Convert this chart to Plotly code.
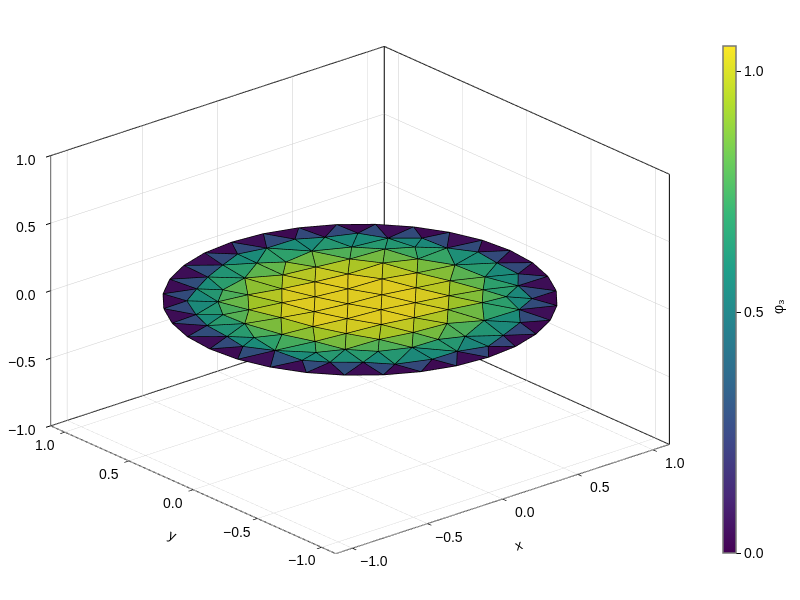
import plotly.graph_objects as go

# disk mesh: outer circle, second ring, inner nodes
# (read as fractions of the box half width, disk edge at .9 of it)
boundary_x = [0, .176, .344, .5, .636, .748, .831, .883, .9, .883, .831, .748, .636, .5, .344, .176,
              0, -.176, -.344, -.5, -.636, -.748, -.831, -.883, -.9, -.883, -.831, -.748, -.636, -.5, -.344, -.176]
boundary_y = [.9, .883, .831, .748, .636, .5, .344, .176, 0, -.176, -.344, -.5, -.636, -.748, -.831, -.883,
              -.9, -.883, -.831, -.748, -.636, -.5, -.344, -.176, 0, .176, .344, .5, .636, .748, .831, .883]
boundary_val = [-.2] * 32

ring_x = [-.481, -.351, -.207, -.071, .076, .242, .361, .506, .572, .690, .700, .777, .758, .747, .655, .604,
          .474, .379, .220, .084, -.062, -.209, -.377, -.472, -.586, -.668, -.686, -.766, -.744, -.729, -.683, -.608]
ring_y = [.581, .655, .719, .774, .742, .739, .668, .607, .473, .373, .210, .082, -.073, -.234, -.341, -.499,
          -.560, -.679, -.746, -.800, -.754, -.751, -.686, -.574, -.476, -.376, -.207, -.076, .061, .219, .350, .502]
ring_val = [.53, .54, .54, .50, .54, .50, .52, .50, .54, .50, .55, .50, .52, .50, .54, .50,
            .55, .50, .50, .48, .53, .50, .50, .54, .53, .52, .56, .51, .54, .53, .52, .50]

inner_x = [-.398, -.507, -.590,
           -.074, -.231, -.350, -.462, -.583, -.658,
           .035, -.076, -.186, -.293, -.412, -.538,
           .209, .100, -.018, -.133, -.251, -.370, -.478, -.559,
           .378, .279, .157, .042, -.073, -.191, -.309, -.435,
           .478, .363, .237, .114, -.004, -.118, -.240, -.336,
           .597, .515, .405, .286, .168, .049, -.069, -.188,
           .597, .458, .339, .228, .118, -.036,
           .609, .503, .400, .269,
           .529, .081]
inner_y = [.495, .402, .270,
           .636, .537, .376, .238, .125, -.028,
           .560, .452, .330, .204, .072, -.083,
           .582, .426, .295, .160, .028, -.103, -.244, -.346,
           .500, .398, .268, .134, -.001, -.133, -.264, -.405,
           .384, .264, .123, -.020, -.152, -.286, -.415, -.520,
           .313, .197, .074, -.058, -.190, -.322, -.453, -.585,
           .033, -.095, -.227, -.350, -.472, -.590,
           -.164, -.274, -.388, -.555,
           -.405, -.642]
inner_val = [.70, .70, .70,
             .70, .80, .90, .89, .78, .68,
             .83, .93, 1.0, 1.02, .98, .84,
             .72, .96, 1.04, 1.09, 1.08, .99, .86, .68,
             .71, .90, 1.03, 1.11, 1.12, 1.08, .97, .75,
             .72, .94, 1.06, 1.12, 1.11, 1.03, .90, .71,
             .66, .84, .97, 1.05, 1.08, 1.02, .93, .72,
             .76, .92, .98, .97, .90, .74,
             .71, .82, .84, .72,
             .66, .68]

tick_vals = [-1, -.5, 0, .5, 1]
tick_text = ["−1.0", "−0.5", "0.0", "0.5", "1.0"]
lim = 1.11  # x and y limits, z stays at +-1
cube_x = [-lim, -lim, lim, lim, None, -lim, lim, lim, None, lim, lim, None, -lim, -lim, None, lim, lim, None, -lim, lim]
cube_y = [lim, lim, lim, lim, None, lim, lim, -lim, None, lim, -lim, None, lim, -lim, None, -lim, -lim, None, -lim, -lim]
cube_z = [-1, 1, 1, -1, None, -1, -1, -1, None, 1, 1, None, -1, -1, None, -1, 1, None, -1, -1]

xs = [v / .9 for v in boundary_x + ring_x + inner_x]
ys = [v / .9 for v in boundary_y + ring_y + inner_y]
vals = boundary_val + ring_val + inner_val
n = len(xs)


def in_circle(pts, t, p):
    ax, ay = pts[t[0]]
    bx, by = pts[t[1]]
    cx, cy = pts[t[2]]
    d = 2 * (ax * (by - cy) + bx * (cy - ay) + cx * (ay - by))
    ux = ((ax**2 + ay**2) * (by - cy) + (bx**2 + by**2) * (cy - ay) + (cx**2 + cy**2) * (ay - by)) / d
    uy = ((ax**2 + ay**2) * (cx - bx) + (bx**2 + by**2) * (ax - cx) + (cx**2 + cy**2) * (bx - ax)) / d
    return (pts[p][0] - ux)**2 + (pts[p][1] - uy)**2 < (ax - ux)**2 + (ay - uy)**2


# Delaunay, the original mesh looks like one
pts = list(zip(xs, ys)) + [(-1000, -1000), (1000, -1000), (0, 1000)]
tris = [(n, n + 1, n + 2)]
for p in range(n):
    bad = [t for t in tris if in_circle(pts, t, p)]
    seen = {}
    for t in bad:
        for e in [(t[0], t[1]), (t[1], t[2]), (t[2], t[0])]:
            key = tuple(sorted(e))
            seen[key] = seen.get(key, 0) + 1
    tris = [t for t in tris if t not in bad]
    tris += [(a, b, p) for (a, b), c in seen.items() if c == 1]
tris = [t for t in tris if max(t) < n]

cell_val = [(vals[a] + vals[b] + vals[c]) / 3 for a, b, c in tris]

edges = set()
for a, b, c in tris:
    edges |= {tuple(sorted(e)) for e in [(a, b), (b, c), (c, a)]}
edge_x, edge_y = [], []
for a, b in edges:
    edge_x += [xs[a], xs[b], None]
    edge_y += [ys[a], ys[b], None]

fig = go.Figure()
fig.add_trace(go.Mesh3d(
    x=xs, y=ys, z=[0] * n,
    i=[t[0] for t in tris], j=[t[1] for t in tris], k=[t[2] for t in tris],
    intensity=cell_val, intensitymode="cell",
    colorscale="Viridis", cmin=0, cmax=1.052,
    flatshading=True,
    lighting=dict(ambient=0.88, diffuse=0, specular=0, roughness=1, fresnel=0),
    colorbar=dict(
        x=723 / 800, xanchor="left", y=1 - 46 / 600, yanchor="top",
        lenmode="pixels", len=507, thicknessmode="pixels", thickness=13,
        outlinecolor="#777777", outlinewidth=1.5, xpad=0, ypad=0,
        tickvals=[0, .5, 1], ticktext=["0.0", "0.5", "1.0"],
        ticks="outside", ticklen=5, tickcolor="black",
        tickfont=dict(family="Liberation Sans", size=14, color="black"),
    ),
))
fig.add_trace(go.Scatter3d(x=edge_x, y=edge_y, z=[.002 if v is not None else None for v in edge_x],
                           mode="lines", line=dict(color="black", width=1.5),
                           hoverinfo="skip", showlegend=False))
fig.add_trace(go.Scatter3d(x=cube_x, y=cube_y, z=cube_z, mode="lines",
                           line=dict(color="black", width=2),
                           hoverinfo="skip", showlegend=False))

axis = dict(tickvals=tick_vals, title="", showticklabels=True, tickfont=dict(size=1, color="rgba(0,0,0,0)"),
            showbackground=False, showgrid=True, gridcolor="rgba(0,0,0,0.2)", gridwidth=1,
            zeroline=False, showline=True, linecolor="rgba(0,0,0,0)", ticks="outside", ticklen=6,
            tickwidth=2, tickcolor="black", showspikes=False)

tick_font = dict(family="Liberation Sans", size=14, color="black")
tick_labels = []
for v, t in zip(tick_vals, tick_text):
    tick_labels.append(dict(x=v, y=-lim, z=-1, text=t, showarrow=False, font=tick_font,
                            xshift=22, yshift=-13))
    tick_labels.append(dict(x=-lim, y=v, z=-1, text=t, showarrow=False, font=tick_font,
                            xshift=-20, yshift=-13))
    tick_labels.append(dict(x=-lim, y=lim, z=v, text=t, showarrow=False, font=tick_font,
                            xanchor="right", xshift=-13, yshift=-4))

fig.update_layout(
    width=800, height=600,
    margin=dict(l=0, r=0, t=0, b=0),
    paper_bgcolor="white",
    font=dict(family="Liberation Sans", color="black"),
    scene=dict(
        domain=dict(x=[0, .9], y=[0, 1]),
        xaxis=dict(axis, range=[-lim, lim]),
        yaxis=dict(axis, range=[-lim, lim]),
        zaxis=dict(axis, range=[-1, 1]),
        aspectmode="manual", aspectratio=dict(x=1.463, y=1.463, z=.975),
        camera=dict(eye=dict(x=-.600 * 2, y=-.702 * 2, z=.383 * 2),
                    center=dict(x=0, y=0, z=0), up=dict(x=0, y=0, z=1),
                    projection=dict(type="orthographic")),
        annotations=tick_labels,
    ),
    annotations=[
        dict(text="x", x=518 / 800, y=1 - 545 / 600, xref="paper", yref="paper", showarrow=False,
             xanchor="center", yanchor="middle", textangle=-18, font=dict(size=14, family="Liberation Sans")),
        dict(text="y", x=172 / 800, y=1 - 535 / 600, xref="paper", yref="paper", showarrow=False,
             xanchor="center", yanchor="middle", textangle=24, font=dict(size=14, family="Liberation Sans")),
        dict(text="φ₃", x=778 / 800, y=1 - 307 / 600, xref="paper", yref="paper", showarrow=False,
             xanchor="center", yanchor="middle", textangle=-90, font=dict(size=14, family="Liberation Sans")),
    ],
)

# body margin would push the plot 8px off
fig.write_html("out.html", config={"displayModeBar": False},
               post_script="document.body.style.margin='0';")
